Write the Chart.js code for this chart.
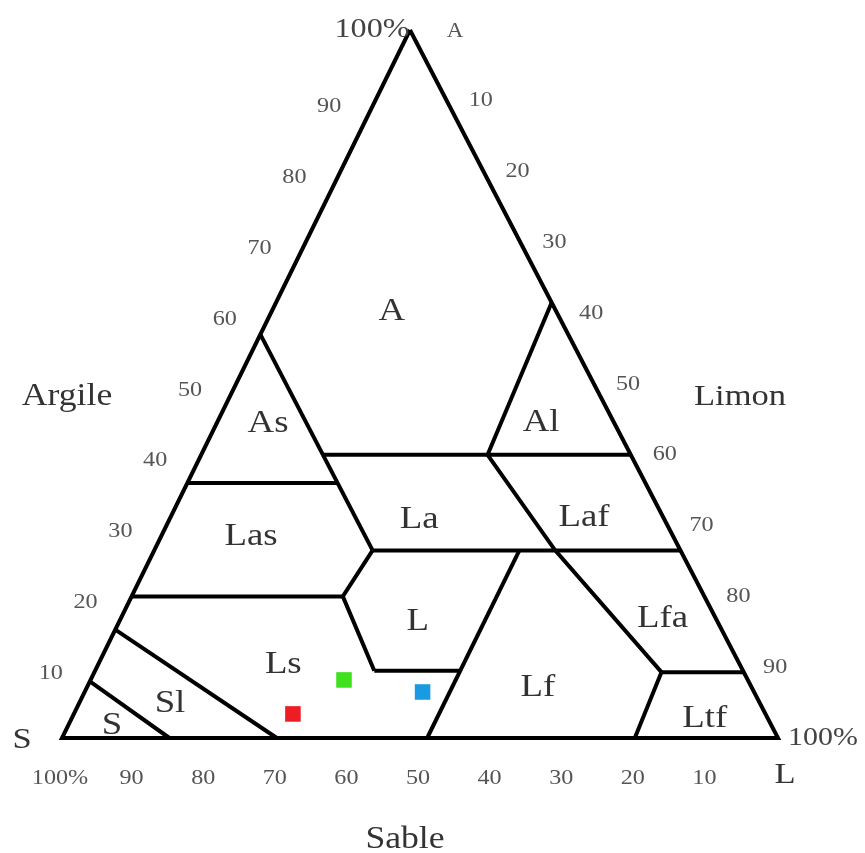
<!DOCTYPE html>
<html>
<head>
<meta charset="utf-8">
<script src="https://cdn.jsdelivr.net/npm/chart.js@4/dist/chart.umd.min.js"></script>
<style>
  html, body { margin: 0; background: #fff; }
</style>
</head>
<body>
<canvas id="chart" width="865" height="853"></canvas>
<script>
// every point is [clay %, sand %]; silt is what is left
const outline = [[100, 0], [0, 100], [0, 0], [100, 0]];
const boundaries = [
  [[57, 43], [26.5, 43]],                 // A / As, La / Las
  [[40, 43], [40, 0]],                    // top of La, Laf
  [[36, 64], [36, 43]],                   // As / Las
  [[26.5, 43], [26.5, 0]],                // La / L, Lf, Lfa
  [[26.5, 43], [20, 50.5], [9.5, 51.5]],  // Las / L
  [[20, 80], [20, 50.5]],                 // Las / Ls
  [[9.5, 51.5], [9.5, 39.5]],             // L / Ls
  [[26.5, 22.5], [0, 49]],                // L, Ls / Lf
  [[61.5, 0], [40, 20]],                  // A / Al
  [[40, 20], [26.5, 17.5], [9.3, 11.5]],  // Laf / Lfa
  [[9.3, 11.5], [9.3, 0]],                // Lfa / Ltf
  [[9.3, 11.5], [0, 20]],                 // Lf / Ltf
  [[15.3, 84.7], [0, 70]],                // Ls / Sl
  [[8, 92], [0, 85]],                     // Sl / S
];

const classNames = ['A', 'As', 'Al', 'La', 'Laf', 'Las', 'L', 'Ls', 'Lf', 'Lfa', 'Ltf', 'Sl', 'S'];
const classAnchors = [
  [60.2, 23], [44.4, 48.4], [44.5, 10.2], [30.8, 34.3], [31.1, 11.1], [28.4, 59],
  [16.4, 41.9], [10.3, 63.8], [7.1, 29.9], [16.8, 7.5], [2.8, 8.8], [4.9, 82.4], [1.8, 92.1],
];

const sampleColors = ['#ee1c24', '#3fe01c', '#1a9ae0'];
const samples = [[3.4, 66], [8.2, 56.4], [6.5, 46.3]];

const clayTicks = [90, 80, 70, 60, 50, 40, 30, 20, 10];
const siltTicks = [10, 20, 30, 40, 50, 60, 70, 80, 90];
const sandTicks = [100, 90, 80, 70, 60, 50, 40, 30, 20, 10];

// apex sits a little left of centre in the drawing
const SKEW = 0.486;
const toXY = ([clay, sand]) => ({ x: (100 - sand - clay) + SKEW * clay, y: clay });

const lineSet = (pts) => ({
  data: pts.map(toXY),
  showLine: true,
  borderColor: '#000',
  borderWidth: 4,
  pointRadius: 0,
  clip: false,
});

const datasets = [lineSet(outline), ...boundaries.map(lineSet)];
samples.forEach((s, i) => {
  datasets.push({
    data: [toXY(s)],
    pointStyle: 'rect',
    pointRadius: 11,
    backgroundColor: sampleColors[i],
    borderWidth: 0,
    clip: false,
  });
});

function text(ctx, str, x, y, size, color) {
  ctx.save();
  ctx.translate(x, y);
  ctx.scale(1.15, 1);
  ctx.font = size + 'px "Liberation Serif", "DejaVu Serif", serif';
  ctx.fillStyle = color;
  ctx.textAlign = 'center';
  ctx.textBaseline = 'middle';
  ctx.fillText(str, 0, 0);
  ctx.restore();
}

const labels = {
  id: 'labels',
  afterDatasetsDraw(chart) {
    const ctx = chart.ctx;
    const sx = chart.scales.x, sy = chart.scales.y;
    const px = (p) => {
      const v = toXY(p);
      return [sx.getPixelForValue(v.x), sy.getPixelForValue(v.y)];
    };

    classNames.forEach((name, i) => {
      const [x, y] = px(classAnchors[i]);
      text(ctx, name, x, y, 32, '#333');
    });

    clayTicks.forEach((v) => {
      const [x, y] = px([v, 100 - v]);
      text(ctx, String(v), x - 46, y + 6, 21, '#555');
    });
    siltTicks.forEach((v) => {
      const [x, y] = px([100 - v, 0]);
      text(ctx, String(v), x + 34, y, 21, '#555');
    });
    sandTicks.forEach((v) => {
      const [x, y] = px([0, v]);
      text(ctx, v === 100 ? '100%' : String(v), x - 2, y + 40, 21, '#555');
    });

    const a = chart.chartArea;
    text(ctx, '100%', 372, a.top, 28, '#444');
    text(ctx, 'A', 455, a.top + 2, 20, '#555');
    text(ctx, 'S', 22, a.bottom + 2, 30, '#333');
    text(ctx, '100%', 823, a.bottom, 26, '#444');
    text(ctx, 'L', 785, a.bottom + 37, 30, '#333');
    text(ctx, 'Argile', 67, 397, 31, '#333');
    text(ctx, 'Limon', 740, 397, 30, '#333');
    text(ctx, 'Sable', 405, 840, 31, '#333');
  },
};

new Chart(document.getElementById('chart'), {
  type: 'scatter',
  data: { datasets },
  options: {
    responsive: false,
    animation: false,
    layout: { padding: { left: 62, right: 87, top: 30, bottom: 115 } },
    plugins: { legend: { display: false }, tooltip: { enabled: false } },
    scales: {
      x: { type: 'linear', min: 0, max: 100, display: false },
      y: { type: 'linear', min: 0, max: 100, display: false },
    },
  },
  plugins: [labels],
});
</script>
</body>
</html>
